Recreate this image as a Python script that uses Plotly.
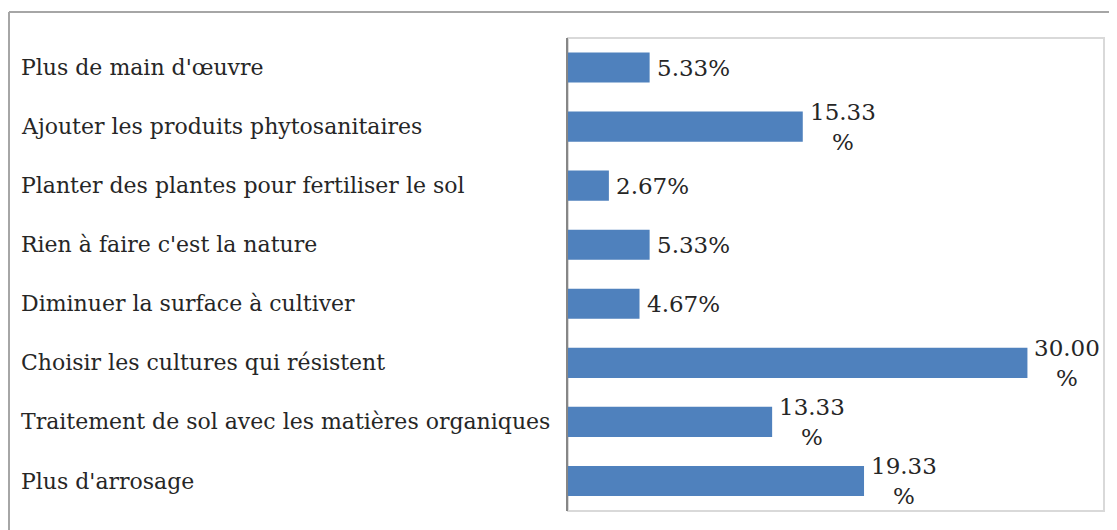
import plotly.graph_objects as go

categories = [
    "Plus de main d'œuvre",
    "Ajouter les produits phytosanitaires",
    "Planter des plantes pour fertiliser le sol",
    "Rien à faire c'est la nature",
    "Diminuer la surface à cultiver",
    "Choisir les cultures qui résistent",
    "Traitement de sol avec les matières organiques",
    "Plus d'arrosage",
]
values = [5.33, 15.33, 2.67, 5.33, 4.67, 30.00, 13.33, 19.33]

W, H = 1117, 530
# the page puts the figure 8px in from the top-left corner
OFF = 8
L, R, T, B = 568 - OFF, W - (1104 - OFF), 38 - OFF, H - (511 - OFF)
pw, ph = W - L - R, H - T - B

FONT = "DejaVu Serif"
TXT = "#262626"


def px_x(p):
    return (p - OFF - L) / pw


def px_y(p):
    return (H - B - (p - OFF)) / ph


fig = go.Figure()
fig.add_trace(go.Bar(
    x=values,
    y=categories,
    orientation='h',
    marker=dict(color='#4f81bd', line=dict(width=0)),
    hoverinfo='skip',
))

# value labels (long ones wrap like in the source)
for cat, v in zip(categories, values):
    txt = f"{v:.2f}%" if v < 10 else f"{v:.2f}<br>%"
    fig.add_annotation(
        x=v, y=cat, xref='x', yref='y',
        text=txt, showarrow=False,
        xanchor='left', yanchor='middle', xshift=5, align='center',
        font=dict(family=FONT, size=23, color=TXT),
    )

# category labels, left aligned
for cat in categories:
    fig.add_annotation(
        x=px_x(19), y=cat, xref='paper', yref='y',
        text=cat, showarrow=False,
        xanchor='left', yanchor='middle',
        font=dict(family=FONT, size=22, color=TXT),
    )

# plot area border and outer frame
fig.add_shape(type='rect', xref='paper', yref='paper', x0=0, x1=1, y0=0, y1=1,
              line=dict(color='#d9d9d9', width=2), layer='below')
fig.add_shape(type='line', xref='paper', yref='paper',
              x0=px_x(9), x1=px_x(W + 20), y0=px_y(12), y1=px_y(12),
              line=dict(color='#a6a6a6', width=2))
fig.add_shape(type='line', xref='paper', yref='paper',
              x0=px_x(9), x1=px_x(9), y0=px_y(12), y1=px_y(H + 20),
              line=dict(color='#a6a6a6', width=2))

fig.update_layout(
    width=W, height=H,
    margin=dict(l=L, r=R, t=T, b=B),
    paper_bgcolor='white', plot_bgcolor='white',
    showlegend=False,
    bargap=0.49,
    xaxis=dict(range=[0, 35], showgrid=False, zeroline=False,
               showticklabels=False, ticks='', showline=False),
    yaxis=dict(autorange='reversed', showgrid=False, zeroline=False,
               showticklabels=False, ticks='',
               showline=True, linecolor='#868686', linewidth=2),
)

fig.write_html("out.html")
